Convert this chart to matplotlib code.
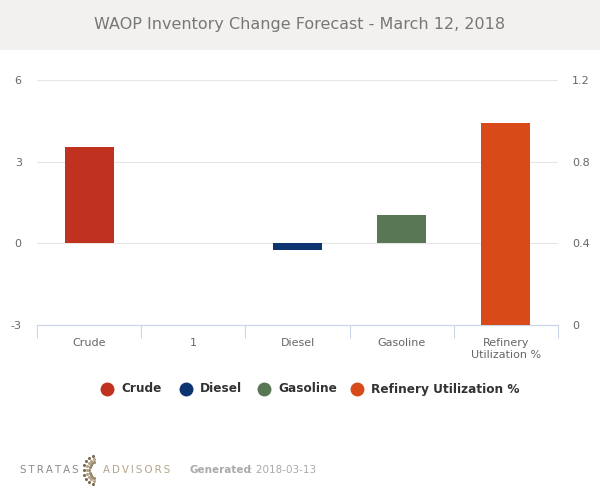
import numpy as np
import matplotlib
matplotlib.use('Agg')
import matplotlib.pyplot as plt
from matplotlib.lines import Line2D

# chart values
categories = ['Crude', '1', 'Diesel', 'Gasoline', 'Refinery\nUtilization %']
inventory_names = ['Crude', 'Diesel', 'Gasoline']
inventory_pos = [0, 2, 3]
inventory_vals = [3.53, -0.25, 1.03]
refinery_name = 'Refinery Utilization %'
refinery_pos = [4]
refinery_vals = [0.99]
left_ticks = [-3, 0, 3, 6]
right_ticks = [0, 0.4, 0.8, 1.2]
right_labels = ['0', '0.4', '0.8', '1.2']

colors = {'Crude': '#c0321f', 'Diesel': '#0d3470', 'Gasoline': '#5a7755',
          'Refinery Utilization %': '#d84a17'}

fig = plt.figure(figsize=(6, 5), dpi=100)
fig.patch.set_facecolor('white')

# title band
band = fig.add_axes([0, 0.9, 1, 0.1])
band.set_facecolor('#f2f1ef')
band.set_xticks([]); band.set_yticks([])
for s in band.spines.values():
    s.set_visible(False)
fig.text(0.5, 0.952, 'WAOP Inventory Change Forecast - March 12, 2018',
         ha='center', va='center', fontsize=11.5, color='#777777')

ax = fig.add_axes([37/600, 0.35, (558-37)/600, 0.49])
ax2 = ax.twinx()

w = 0.47
for name, x, v in zip(inventory_names, inventory_pos, inventory_vals):
    ax.bar(x, v, width=w, color=colors[name], zorder=3)
ax2.bar(refinery_pos, refinery_vals, width=w, color=colors[refinery_name], zorder=3)

ax.set_xlim(-0.5, 4.5)
ax.set_ylim(-3, 6)
ax2.set_ylim(0, 1.2)
ax.set_yticks(left_ticks)
ax.set_yticklabels([str(t) for t in left_ticks])
ax2.set_yticks(right_ticks)
ax2.set_yticklabels(right_labels)
ax.grid(axis='y', color='#e6e6e6', lw=0.8, zorder=0)
ax.set_axisbelow(True)

ax.set_xticks(range(len(categories)))
ax.set_xticklabels(categories, fontsize=8, color='#666666', linespacing=1.3)
ax.set_xticks(np.arange(-0.5, 5, 1), minor=True)
ax.tick_params(axis='x', which='major', length=0, pad=9)
ax.tick_params(axis='x', which='minor', length=9, color='#ccd6eb', width=0.8)
ax.tick_params(axis='y', length=0, labelsize=8, labelcolor='#666666', pad=11)
ax2.tick_params(axis='y', length=0, labelsize=8, labelcolor='#666666', pad=10)

for a in (ax, ax2):
    for s in ['top', 'left', 'right']:
        a.spines[s].set_visible(False)
    a.spines['bottom'].set_color('#ccd6eb')
    a.spines['bottom'].set_linewidth(0.8)

# legend, laid out by hand like the original
legend_names = inventory_names + [refinery_name]
legend_x = [107, 186, 264, 357]
ly = 1 - 389 / 500
for n, x in zip(legend_names, legend_x):
    fig.add_artist(Line2D([x / 600], [ly], marker='o', markersize=9, ls='',
                          color=colors[n], transform=fig.transFigure))
    fig.text((x + 14) / 600, ly, n, fontsize=8.7, fontweight='bold',
             color='#333333', va='center')

# footer
fig.text(20/600, 0.06, '\u2009'.join('STRATAS'), fontsize=7.4, color='#8a8a8a',
         va='center')
fig.text(103/600, 0.06, '\u2009'.join('ADVISORS'), fontsize=7.4, color='#b3a58c',
         va='center')
th = np.linspace(-1.3, 1.3, 9)
logo = fig.add_axes([81/600, 0.025, 18/600, 0.07])
logo.axis('off')
for r, c in [(0.5, '#9b8a6e'), (0.7, '#b3a58c'), (0.9, '#7d6b52')]:
    logo.scatter(r * np.cos(th + np.pi) + 1, r * np.sin(th + np.pi), s=1.5, color=c)
logo.set_xlim(-0.1, 1.2)
logo.set_ylim(-1.1, 1.1)
fig.text(190/600, 0.06, 'Generated', fontsize=7.5, color='#aaaaaa',
         fontweight='bold', va='center')
fig.text(249/600, 0.06, ': 2018-03-13', fontsize=7.5, color='#aaaaaa', va='center')

plt.savefig('out.png', dpi=100)
